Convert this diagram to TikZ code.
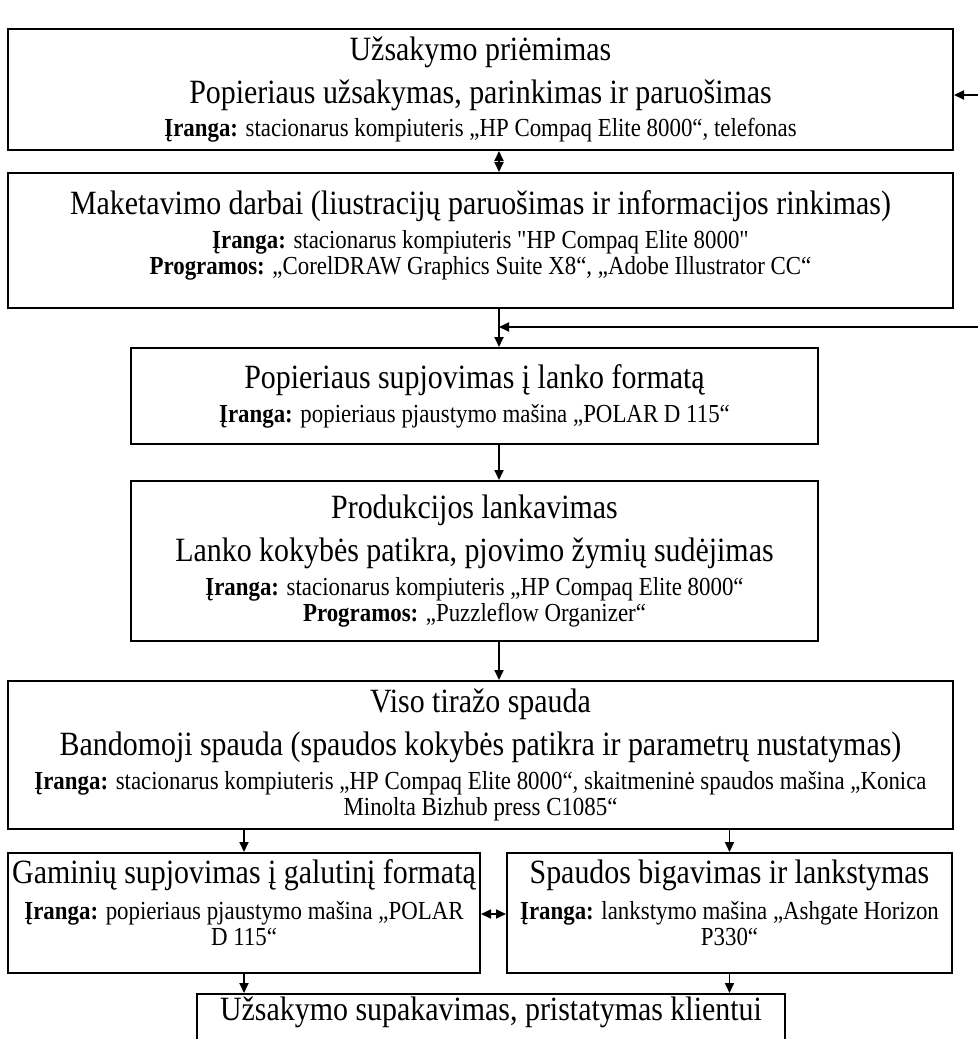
\documentclass[tikz,border=0pt]{standalone}
\usepackage{fontspec}
\setmainfont{Liberation Serif}[FakeStretch=0.88, Ligatures=TeXOff]
\usetikzlibrary{positioning, arrows.meta}
\setlength{\lineskiplimit}{-100pt}
\newcommand{\pav}{\fontsize{34}{40}\selectfont}
\newcommand{\smulk}{\fontsize{26}{26}\selectfont}

\begin{document}
\begin{tikzpicture}[
  x=1pt, y=-1pt,
  font=\smulk,
  blokas/.style={draw, line width=2pt, align=center, inner sep=0pt, anchor=north},
  platus/.style={blokas, minimum width=945pt},
  vidut/.style={blokas, minimum width=687pt},
  rod/.style={-{Triangle[length=10pt, width=9pt]}, line width=1.8pt},
  dvi/.style={{Triangle[length=10pt, width=9pt]}-{Triangle[length=10pt, width=9pt]}, line width=1.8pt},
]
\clip (0,0) rectangle (978,1039);
% pagrindinė ašis ir laisvi galai dešinėje
\coordinate (asis) at (499,0);
\coordinate (grizt1) at (978,95);
\coordinate (grizt2) at (978,327);
% užsakymas
\node[platus, minimum height=121pt] (uzs) at (480.5,28)
  {{\pav Užsakymo priėmimas}\\[17pt]
   {\pav Popieriaus užsakymas, parinkimas ir paruošimas}\\[7pt]
   \textbf{Įranga:} stacionarus kompiuteris „HP Compaq Elite 8000“, telefonas};
% maketavimas
\node[platus, minimum height=135pt, text depth=16pt] (mak) at (480.5,172)
  {{\pav Maketavimo darbai (liustracijų paruošimas ir informacijos rinkimas)}\\[8pt]
   \textbf{Įranga:} stacionarus kompiuteris "HP Compaq Elite 8000"\\
   \textbf{Programos:} „CorelDRAW Graphics Suite X8“, „Adobe Illustrator CC“};
% lapų supjovimas
\node[vidut, minimum height=96pt] (lap) at (474.5,347)
  {{\pav Popieriaus supjovimas į lanko formatą}\\[8pt]
   \textbf{Įranga:} popieriaus pjaustymo mašina „POLAR D 115“};
% lankavimas
\node[vidut, minimum height=160pt] (lank) at (474.5,480)
  {{\pav Produkcijos lankavimas}\\[17pt]
   {\pav Lanko kokybės patikra, pjovimo žymių sudėjimas}\\[8pt]
   \textbf{Įranga:} stacionarus kompiuteris „HP Compaq Elite 8000“\\
   \textbf{Programos:} „Puzzleflow Organizer“};
% spauda
\node[platus, minimum height=148pt] (viso) at (480.5,680)
  {{\pav Viso tiražo spauda}\\[17pt]
   {\pav Bandomoji spauda (spaudos kokybės patikra ir parametrų nustatymas)}\\[8pt]
   \textbf{Įranga:} stacionarus kompiuteris „HP Compaq Elite 8000“, skaitmeninė spaudos mašina „Konica\\
   Minolta Bizhub press C1085“};
% pabaigos darbai
\node[blokas, minimum width=472pt, minimum height=120pt, text depth=20pt] (gam) at (244,852)
  {{\pav Gaminių supjovimas į galutinį formatą}\\[10pt]
   \textbf{Įranga:} popieriaus pjaustymo mašina „POLAR\\
   D 115“};
\node[blokas, minimum width=445pt, minimum height=120pt, text depth=20pt] (big) at (729.5,852)
  {{\pav Spaudos bigavimas ir lankstymas}\\[10pt]
   \textbf{Įranga:} lankstymo mašina „Ashgate Horizon\\
   P330“};
\node[blokas, minimum width=588pt, text height=23pt, text depth=60pt, inner ysep=3pt,
      font=\pav] (pak) at (491,993)
  {Užsakymo supakavimas, pristatymas klientui};
% rodyklės
\draw[dvi] (uzs.south -| asis) -- (mak.north -| asis);
\draw[rod] (mak.south -| asis) -- (lap.north -| asis);
\draw[rod] (grizt1) -- (grizt1 -| uzs.east);
\draw[rod] (grizt2) -- (grizt2 -| asis);
\draw[rod] (lap.south -| asis) -- (lank.north -| asis);
\draw[rod] (lank.south -| asis) -- (viso.north -| asis);
\draw[rod] (viso.south -| gam) -- (gam.north);
\draw[rod] (viso.south -| big) -- (big.north);
\draw[dvi] ([yshift=-1pt]gam.east) -- ([yshift=-1pt]big.west);
\draw[rod] (gam.south) -- (gam.south |- pak.north);
\draw[rod] (big.south) -- (big.south |- pak.north);
\end{tikzpicture}
\end{document}
